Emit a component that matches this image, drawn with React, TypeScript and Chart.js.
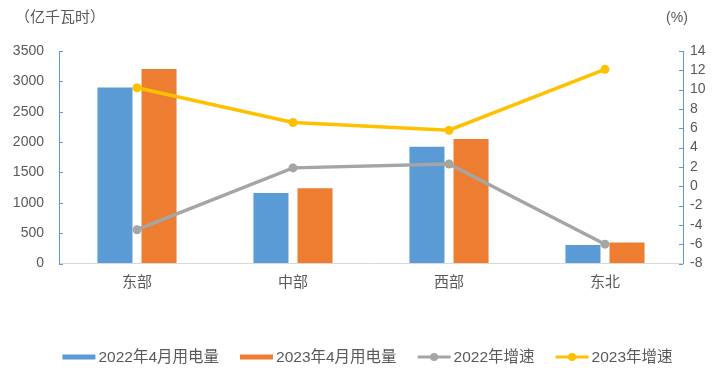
import React, { useEffect, useRef } from "react";
import { Chart, registerables } from "chart.js";

Chart.register(...registerables);

const categories = ["东部", "中部", "西部", "东北"];
const usage2022 = [2900, 1160, 1925, 305];
const usage2023 = [3205, 1240, 2050, 345];
const growth2022 = [-4.5, 1.9, 2.3, -6.0];
const growth2023 = [10.2, 6.6, 5.8, 12.1];
const seriesLabels = ["2022年4月用电量", "2023年4月用电量", "2022年增速", "2023年增速"];
const leftTicks = { min: 0, max: 3500, step: 500 };
const rightTicks = { min: -8, max: 14, step: 2 };
const leftUnit = "（亿千瓦时）";
const rightUnit = "(%)";

const FONT = '"Liberation Sans", "Noto Sans CJK SC", sans-serif';
const TEXT = "#595959";
const BLUE = "#5B9BD5";
const ORANGE = "#ED7D31";
const GRAY = "#A5A5A5";
const GOLD = "#FFC000";
const AXIS_BLUE = "#5B9BD5";

const decorPlugin = {
  id: "decor",
  afterDraw(chart: any) {
    const ctx = chart.ctx as CanvasRenderingContext2D;
    const area = chart.chartArea;
    ctx.save();
    // inward tick marks
    ctx.strokeStyle = AXIS_BLUE;
    ctx.lineWidth = 1;
    const yL = chart.scales.y;
    const yR = chart.scales.y1;
    yL.ticks.forEach((_t: any, i: number) => {
      const p = Math.round(yL.getPixelForTick(i)) + 0.5;
      ctx.beginPath();
      ctx.moveTo(area.left, p);
      ctx.lineTo(area.left + 4, p);
      ctx.stroke();
    });
    yR.ticks.forEach((_t: any, i: number) => {
      const p = Math.round(yR.getPixelForTick(i)) + 0.5;
      ctx.beginPath();
      ctx.moveTo(area.right, p);
      ctx.lineTo(area.right - 4, p);
      ctx.stroke();
    });
    // unit titles
    ctx.fillStyle = TEXT;
    ctx.textBaseline = "middle";
    ctx.font = `15px ${FONT}`;
    ctx.textAlign = "left";
    ctx.fillText(leftUnit, 15, 18);
    ctx.font = `14px ${FONT}`;
    ctx.textAlign = "center";
    ctx.fillText(rightUnit, 677, 18);

    // legend
    ctx.font = `15.5px ${FONT}`;
    const symW = 33;
    const symGap = 3;
    const itemGap = 21;
    const ds = chart.data.datasets;
    const widths = ds.map((d: any) => symW + symGap + ctx.measureText(d.label).width);
    const total = widths.reduce((a: number, b: number) => a + b, 0) + itemGap * (ds.length - 1);
    let x = 367.5 - total / 2;
    const cy = 357;
    ds.forEach((d: any, i: number) => {
      if (d.type === "line") {
        ctx.strokeStyle = d.borderColor;
        ctx.lineWidth = 3;
        ctx.beginPath();
        ctx.moveTo(x, cy);
        ctx.lineTo(x + symW, cy);
        ctx.stroke();
        ctx.fillStyle = d.borderColor;
        ctx.beginPath();
        ctx.arc(x + symW / 2, cy, 4, 0, Math.PI * 2);
        ctx.fill();
      } else {
        ctx.fillStyle = d.backgroundColor;
        ctx.fillRect(x, cy - 2.5, symW, 5);
      }
      ctx.fillStyle = TEXT;
      ctx.textAlign = "left";
      ctx.textBaseline = "middle";
      ctx.fillText(d.label, x + symW + symGap, cy + 1);
      x += widths[i] + itemGap;
    });
    ctx.restore();
  },
};

export default function App() {
  const ref = useRef<HTMLCanvasElement | null>(null);

  useEffect(() => {
    if (!ref.current) return;
    const chart = new Chart(ref.current, {
      type: "bar",
      data: {
        labels: categories,
        datasets: [
          {
            type: "bar",
            label: seriesLabels[0],
            data: usage2022,
            backgroundColor: BLUE,
            yAxisID: "y",
            order: 2,
            categoryPercentage: 0.565,
            barPercentage: 0.795,
          },
          {
            type: "bar",
            label: seriesLabels[1],
            data: usage2023,
            backgroundColor: ORANGE,
            yAxisID: "y",
            order: 2,
            categoryPercentage: 0.565,
            barPercentage: 0.795,
          },
          {
            type: "line",
            label: seriesLabels[2],
            data: growth2022,
            borderColor: GRAY,
            backgroundColor: GRAY,
            borderWidth: 3.5,
            pointRadius: 4.5,
            pointBackgroundColor: GRAY,
            pointBorderWidth: 0,
            yAxisID: "y1",
            order: 1,
            tension: 0,
          },
          {
            type: "line",
            label: seriesLabels[3],
            data: growth2023,
            borderColor: GOLD,
            backgroundColor: GOLD,
            borderWidth: 3.5,
            pointRadius: 4.5,
            pointBackgroundColor: GOLD,
            pointBorderWidth: 0,
            yAxisID: "y1",
            order: 0,
            tension: 0,
          },
        ] as any,
      },
      options: {
        responsive: false,
        animation: false,
        layout: { padding: { top: 51, bottom: 71.5, left: 0, right: 0 } },
        plugins: {
          legend: { display: false },
          tooltip: { enabled: false },
          title: { display: false },
        },
        scales: {
          x: {
            grid: { display: true, drawOnChartArea: false, drawTicks: false },
            border: { display: true, color: "#D9D9D9", width: 1 },
            ticks: { color: TEXT, font: { family: FONT, size: 15 }, padding: 10 },
            afterFit: (s: any) => {
              s.height = 36;
            },
          },
          y: {
            position: "left",
            min: leftTicks.min,
            max: leftTicks.max,
            grid: { display: true, drawOnChartArea: false, drawTicks: false },
            border: { display: true, color: AXIS_BLUE, width: 1 },
            ticks: {
              stepSize: leftTicks.step,
              autoSkip: false,
              color: TEXT,
              font: { family: FONT, size: 14 },
              padding: 15,
              callback: (v: any) => String(v),
            },
            afterFit: (s: any) => {
              s.width = 59;
            },
          },
          y1: {
            position: "right",
            min: rightTicks.min,
            max: rightTicks.max,
            grid: { display: true, drawOnChartArea: false, drawTicks: false },
            border: { display: true, color: AXIS_BLUE, width: 1 },
            ticks: {
              stepSize: rightTicks.step,
              autoSkip: false,
              color: TEXT,
              font: { family: FONT, size: 14 },
              padding: 7,
              callback: (v: any) => String(v),
            },
            afterFit: (s: any) => {
              s.width = 44;
            },
          },
        },
      } as any,
      plugins: [decorPlugin],
    });
    return () => chart.destroy();
  }, []);

  return (
    <div style={{ position: "absolute", left: 0, top: 0, width: 727, height: 371, background: "#fff" }}>
      <canvas ref={ref} width={727} height={371} style={{ display: "block" }} />
    </div>
  );
}
